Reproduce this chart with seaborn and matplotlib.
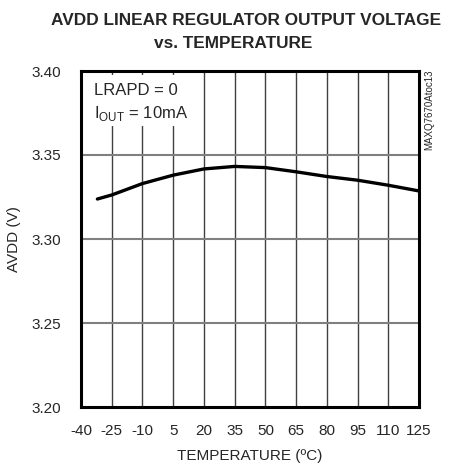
import numpy as np
import pandas as pd
import matplotlib
matplotlib.use("Agg")
import matplotlib.pyplot as plt
import seaborn as sns

# values
temperature = [-32, -25, -10, 5, 20, 35, 50, 65, 80, 95, 110, 125]
avdd = [3.3238, 3.3262, 3.3330, 3.3380, 3.3417, 3.3432, 3.3425, 3.3400, 3.3372, 3.3350, 3.3320, 3.3286]
x_ticks = [-40, -25, -10, 5, 20, 35, 50, 65, 80, 95, 110, 125]
y_ticks = [3.20, 3.25, 3.30, 3.35, 3.40]

df = pd.DataFrame({'T': temperature, 'V': avdd})

sns.set_style('white')
plt.rcParams['font.family'] = ['Liberation Sans', 'DejaVu Sans']

W, H = 451, 470
fig = plt.figure(figsize=(W / 100, H / 100), dpi=100)
ax = fig.add_axes([81/W, 1 - 407/H, 338/W, 336/H])

sns.lineplot(data=df, x='T', y='V', ax=ax, color='black', linewidth=2.4, zorder=4)

ax.set_xlim(-40, 125)
ax.set_ylim(3.20, 3.40)
ax.set_xticks(x_ticks)
ax.set_yticks(y_ticks)
ax.set_xticklabels([str(t) for t in x_ticks], fontsize=11)
ax.set_yticklabels(['%.2f' % v for v in y_ticks], fontsize=11)
ax.tick_params(length=0)
ax.tick_params(axis='x', pad=12)
ax.tick_params(axis='y', pad=14)

# grid
for t in x_ticks[1:-1]:
    ax.axvline(t, color='#404040', linewidth=1.0, zorder=1)
for v in y_ticks[1:-1]:
    ax.axhline(v, color='#808080', linewidth=1.5, zorder=1)

for s in ax.spines.values():
    s.set_color('black')
    s.set_linewidth(2.2)

ax.set_xlabel('TEMPERATURE (ºC)', fontsize=11, labelpad=8)
ax.set_ylabel('AVDD (V)', fontsize=11)
ax.yaxis.set_label_coords(-(81 - 21) / 338, 0.5)

# white patch behind the condition text
ax.add_patch(plt.Rectangle((0, (407 - 126) / 336), (190 - 81) / 338, 51 / 336,
                           transform=ax.transAxes, facecolor='white', edgecolor='none', zorder=2))
ax.text(-33.6, 3.3857, 'LRAPD = 0', fontsize=12, va='baseline', ha='left', zorder=3)
ax.text(-33.6, 3.372, 'I$_{\\mathregular{OUT}}$ = 10mA', fontsize=12, va='baseline', ha='left', zorder=3)

fig.text(246/W, 1 - 25/H, 'AVDD LINEAR REGULATOR OUTPUT VOLTAGE', ha='center', va='baseline',
         fontsize=12.4, fontweight='bold')
fig.text(233/W, 1 - 48/H, 'vs. TEMPERATURE', ha='center', va='baseline',
         fontsize=12.4, fontweight='bold')
fig.text(424/W, 1 - 70/H, 'MAXQ7670Atoc13', rotation=90, ha='left', va='top', fontsize=7)

fig.savefig('out.png', dpi=100)
